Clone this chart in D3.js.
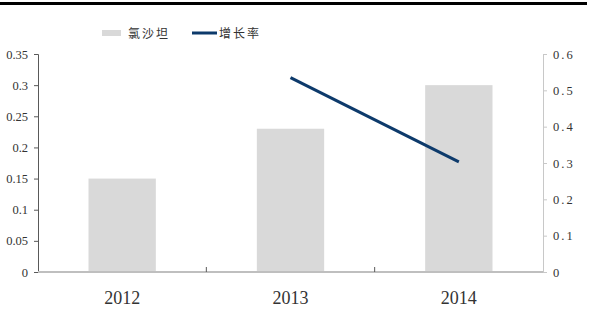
<!DOCTYPE html>
<html>
<head>
<meta charset="utf-8">
<script src="https://cdn.jsdelivr.net/npm/d3@7"></script>
<style>
  body { margin: 0; background: #fff; }
  .tick text { font-family: "Liberation Serif", "DejaVu Serif", serif; fill: #333; }
</style>
</head>
<body>
<div id="graph"></div>
<script>
// data
var years = ["2012", "2013", "2014"];
var sales = [0.15, 0.23, 0.30];          // 氯沙坦 (left axis)
var growth = [null, 0.535, 0.303];       // 增长率 (right axis)
var leftTicks = [0, 0.05, 0.1, 0.15, 0.2, 0.25, 0.3, 0.35];
var rightTicks = [0, 0.1, 0.2, 0.3, 0.4, 0.5, 0.6];

var W = 596, H = 331;
var margin = {top: 54, right: 53, bottom: 59, left: 38},
    width = W - margin.left - margin.right,
    height = H - margin.top - margin.bottom;

var svg = d3.select("#graph").append("svg")
    .attr("width", W)
    .attr("height", H);

// top rule
svg.append("line")
    .attr("x1", 0).attr("x2", 587)
    .attr("y1", 3.5).attr("y2", 3.5)
    .attr("stroke", "#000").attr("stroke-width", 3);

var g = svg.append("g")
    .attr("transform", "translate(" + margin.left + "," + margin.top + ")");

var x = d3.scaleBand().domain(years).range([0, width]).paddingInner(0.6).paddingOuter(0.3);
var xCat = d3.scaleBand().domain(years).range([0, width]);
var yL = d3.scaleLinear().domain([0, 0.35]).range([height, 0]);
var yR = d3.scaleLinear().domain([0, 0.6]).range([height, 0]);

// bars
g.selectAll(".bar")
    .data(years)
    .enter().append("rect")
    .attr("class", "bar")
    .attr("x", function(d) { return x(d); })
    .attr("width", x.bandwidth())
    .attr("y", function(d, i) { return yL(sales[i]); })
    .attr("height", function(d, i) { return height - yL(sales[i]); })
    .attr("fill", "#d9d9d9");

// left axis
var axL = g.append("g")
    .call(d3.axisLeft(yL).tickValues(leftTicks).tickSize(4).tickPadding(6)
        .tickFormat(function(d) { return d === 0 ? "0" : String(d); }));
axL.selectAll("path, line").attr("stroke", "#595959");
axL.selectAll("text").style("font-size", "12.5px");

// right axis
var axR = g.append("g")
    .attr("transform", "translate(" + width + ",0)")
    .call(d3.axisRight(yR).tickValues(rightTicks).tickSize(4).tickPadding(6)
        .tickFormat(function(d) { return d === 0 ? "0" : d3.format(".1f")(d); }));
axR.selectAll("path, line").attr("stroke", "#c8c8c8");
axR.selectAll("text").style("font-size", "12.5px").style("letter-spacing", "2px");

// bottom axis with ticks at category boundaries
var axB = g.append("g")
    .attr("transform", "translate(0," + height + ")");
axB.append("line")
    .attr("x1", 0).attr("x2", width)
    .attr("stroke", "#bfbfbf").attr("stroke-width", 2);
axB.selectAll(".sep")
    .data(years.slice(1))
    .enter().append("line")
    .attr("x1", function(d) { return xCat(d); })
    .attr("x2", function(d) { return xCat(d); })
    .attr("y1", 0).attr("y2", -5)
    .attr("stroke", "#595959");
axB.selectAll(".lab")
    .data(years)
    .enter().append("text")
    .attr("x", function(d) { return xCat(d) + xCat.bandwidth() / 2; })
    .attr("y", 32)
    .attr("text-anchor", "middle")
    .style("font-family", "'Liberation Serif', serif")
    .style("font-size", "18px")
    .attr("fill", "#333")
    .text(function(d) { return d; });

// growth line
var pts = years.map(function(d, i) { return {year: d, v: growth[i]}; })
    .filter(function(d) { return d.v !== null; });
g.append("path")
    .datum(pts)
    .attr("fill", "none")
    .attr("stroke", "#0d3a6b")
    .attr("stroke-width", 3)
    .attr("d", d3.line()
        .x(function(d) { return xCat(d.year) + xCat.bandwidth() / 2; })
        .y(function(d) { return yR(d.v); }));

// legend
var leg = svg.append("g").attr("transform", "translate(0,33)");
leg.append("rect")
    .attr("x", 102).attr("y", -3).attr("width", 19).attr("height", 6)
    .attr("fill", "#d9d9d9");
leg.append("text")
    .attr("x", 128).attr("y", 4.5)
    .style("font-family", "'Noto Sans CJK SC', sans-serif")
    .style("font-size", "12px")
    .style("letter-spacing", "2px")
    .attr("fill", "#333")
    .text("氯沙坦");
leg.append("line")
    .attr("x1", 192).attr("x2", 217)
    .attr("stroke", "#0d3a6b").attr("stroke-width", 3);
leg.append("text")
    .attr("x", 219).attr("y", 4.5)
    .style("font-family", "'Noto Sans CJK SC', sans-serif")
    .style("font-size", "12px")
    .style("letter-spacing", "2px")
    .attr("fill", "#333")
    .text("增长率");
</script>
</body>
</html>
